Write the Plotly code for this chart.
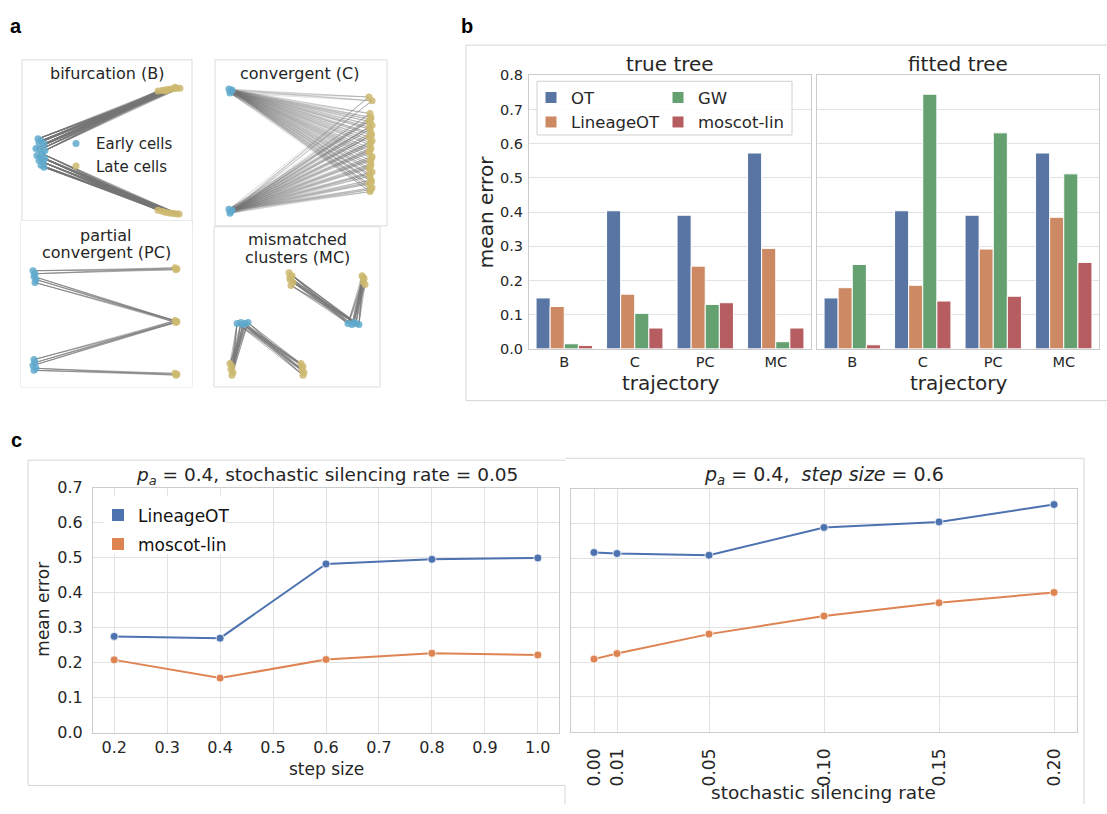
import plotly.graph_objects as go

W, H = 1107, 814


def fx(p):
    return p / W


def fy(p):
    return 1 - p / H


FONT = "DejaVu Sans"
TXT = "#262626"

# ---------------- Panel a : schematic embeddings (unit box coordinates) ----------------
# bifurcation (B)
B_early_up_x = [0.094, 0.112, 0.100, 0.129, 0.082, 0.106, 0.135]
B_early_up_y = [0.524, 0.512, 0.500, 0.494, 0.465, 0.459, 0.453]
B_early_lo_x = [0.118, 0.088, 0.112, 0.135, 0.100, 0.124, 0.112, 0.129]
B_early_lo_y = [0.435, 0.424, 0.412, 0.406, 0.394, 0.382, 0.365, 0.353]
B_late_up_x = [0.800, 0.824, 0.841, 0.859, 0.876, 0.894, 0.912, 0.929, 0.847, 0.900]
B_late_up_y = [0.812, 0.815, 0.818, 0.821, 0.824, 0.826, 0.829, 0.829, 0.812, 0.835]
B_late_lo_x = [0.800, 0.824, 0.841, 0.859, 0.876, 0.894, 0.912, 0.924]
B_late_lo_y = [0.094, 0.088, 0.082, 0.079, 0.076, 0.074, 0.071, 0.071]

# convergent (C)
C_early_up_x = [0.081, 0.093, 0.087, 0.099]
C_early_up_y = [0.824, 0.812, 0.800, 0.818]
C_early_lo_x = [0.081, 0.093, 0.087, 0.099]
C_early_lo_y = [0.100, 0.088, 0.076, 0.094]
C_late_x = [0.901, 0.907, 0.895, 0.913, 0.901, 0.907, 0.895, 0.913, 0.901, 0.907, 0.895,
            0.913, 0.901, 0.907, 0.895, 0.913, 0.901, 0.907, 0.895, 0.913, 0.901, 0.895, 0.913,
            0.904, 0.898, 0.910, 0.904, 0.898, 0.910, 0.904, 0.898, 0.910, 0.904]
C_late_y = [0.676, 0.653, 0.629, 0.606, 0.582, 0.559, 0.535, 0.512, 0.488, 0.465, 0.441,
            0.418, 0.394, 0.371, 0.347, 0.324, 0.300, 0.276, 0.253, 0.229, 0.206, 0.776, 0.753,
            0.641, 0.594, 0.547, 0.500, 0.453, 0.406, 0.359, 0.312, 0.265, 0.218]

# partial convergent (PC)
PC_early_up_x = [0.070, 0.082, 0.076, 0.088, 0.082]
PC_early_up_y = [0.700, 0.682, 0.665, 0.647, 0.629]
PC_early_lo_x = [0.076, 0.082, 0.070, 0.088, 0.076]
PC_early_lo_y = [0.165, 0.147, 0.129, 0.112, 0.100]
PC_late_top_x = [0.901, 0.912, 0.906]
PC_late_top_y = [0.718, 0.712, 0.706]
PC_late_mid_x = [0.901, 0.912, 0.906]
PC_late_mid_y = [0.400, 0.394, 0.388]
PC_late_bot_x = [0.901, 0.912, 0.906]
PC_late_bot_y = [0.082, 0.076, 0.071]

# mismatched clusters (MC)
MC_lateA_x = [0.452, 0.470, 0.458, 0.476, 0.464, 0.458]
MC_lateA_y = [0.713, 0.695, 0.671, 0.652, 0.634, 0.683]
MC_lateB_x = [0.892, 0.904, 0.898, 0.910, 0.898]
MC_lateB_y = [0.695, 0.677, 0.659, 0.640, 0.683]
MC_earlyC_x = [0.807, 0.831, 0.855, 0.873, 0.843]
MC_earlyC_y = [0.396, 0.390, 0.396, 0.390, 0.402]
MC_earlyD_x = [0.139, 0.163, 0.187, 0.205, 0.175]
MC_earlyD_y = [0.396, 0.402, 0.396, 0.402, 0.390]
MC_lateE_x = [0.096, 0.108, 0.102, 0.114, 0.108]
MC_lateE_y = [0.146, 0.128, 0.110, 0.091, 0.073]
MC_lateF_x = [0.524, 0.536, 0.530, 0.542, 0.536]
MC_lateF_y = [0.146, 0.128, 0.110, 0.091, 0.073]

# ---------------- Panel b : bar data ----------------
trajectories = ["B", "C", "PC", "MC"]
methods = ["OT", "LineageOT", "GW", "moscot-lin"]
true_OT = [0.149, 0.404, 0.391, 0.573]
true_LineageOT = [0.124, 0.160, 0.242, 0.294]
true_GW = [0.015, 0.104, 0.130, 0.021]
true_moscot = [0.010, 0.061, 0.135, 0.061]
fit_OT = [0.149, 0.404, 0.391, 0.573]
fit_LineageOT = [0.179, 0.186, 0.292, 0.385]
fit_GW = [0.247, 0.745, 0.632, 0.512]
fit_moscot = [0.012, 0.140, 0.154, 0.253]
bar_colors = ["#5975A4", "#CC8963", "#64A070", "#B55D60"]
b_yticks = [0.0, 0.1, 0.2, 0.3, 0.4, 0.5, 0.6, 0.7, 0.8]

# ---------------- Panel c : line data ----------------
step_size = [0.2, 0.4, 0.6, 0.8, 1.0]
lot_step = [0.275, 0.270, 0.482, 0.495, 0.499]
ml_step = [0.208, 0.156, 0.209, 0.227, 0.222]
silencing = [0.0, 0.01, 0.05, 0.10, 0.15, 0.20]
silencing_labels = ["0.00", "0.01", "0.05", "0.10", "0.15", "0.20"]
lot_sil = [0.516, 0.513, 0.508, 0.588, 0.604, 0.654]
ml_sil = [0.209, 0.225, 0.281, 0.333, 0.371, 0.401]
c_xticks = [0.2, 0.3, 0.4, 0.5, 0.6, 0.7, 0.8, 0.9, 1.0]
c_yticks = [0.0, 0.1, 0.2, 0.3, 0.4, 0.5, 0.6, 0.7]
line_colors = ["#4C72B0", "#DD8452"]

EARLY = "#5fa9cc"
LATE = "#cdb86e"
LINK = "rgba(115,115,115,0.5)"

fig = go.Figure()


def links(sx, sy, dx, dy):
    xs, ys = [], []
    for a, b in zip(sx, sy):
        for c, d in zip(dx, dy):
            xs += [a, c, None]
            ys += [b, d, None]
    return xs, ys


def add_links(pairs, ax, color=LINK):
    xs, ys = [], []
    for sx, sy, dx, dy in pairs:
        lx, ly = links(sx, sy, dx, dy)
        xs += lx
        ys += ly
    fig.add_trace(go.Scatter(x=xs, y=ys, mode="lines", line=dict(color=color, width=1),
                             xaxis="x" + ax, yaxis="y" + ax, showlegend=False, hoverinfo="skip"))


def add_pts(xs, ys, color, ax, name=None, show=False):
    fig.add_trace(go.Scatter(x=xs, y=ys, mode="markers",
                             marker=dict(color=color, size=7, opacity=0.85),
                             xaxis="x" + ax, yaxis="y" + ax, name=name, showlegend=show,
                             legend="legend4"))


# panel a - B
add_links([(B_early_up_x, B_early_up_y, B_late_up_x, B_late_up_y),
           (B_early_lo_x, B_early_lo_y, B_late_lo_x, B_late_lo_y)], "")
add_pts(B_early_up_x + B_early_lo_x, B_early_up_y + B_early_lo_y, EARLY, "", "Early cells", True)
add_pts(B_late_up_x + B_late_lo_x, B_late_up_y + B_late_lo_y, LATE, "", "Late cells", True)
# panel a - C
add_links([(C_early_up_x, C_early_up_y, C_late_x, C_late_y),
           (C_early_lo_x, C_early_lo_y, C_late_x, C_late_y)], "2", "rgba(120,120,120,0.2)")
add_pts(C_early_up_x + C_early_lo_x, C_early_up_y + C_early_lo_y, EARLY, "2")
add_pts(C_late_x, C_late_y, LATE, "2")
# panel a - PC
add_links([(PC_early_up_x[:2], PC_early_up_y[:2], PC_late_top_x, PC_late_top_y),
           (PC_early_up_x[2:], PC_early_up_y[2:], PC_late_mid_x, PC_late_mid_y),
           (PC_early_lo_x[:3], PC_early_lo_y[:3], PC_late_mid_x, PC_late_mid_y),
           (PC_early_lo_x[3:], PC_early_lo_y[3:], PC_late_bot_x, PC_late_bot_y)], "3")
add_pts(PC_early_up_x + PC_early_lo_x, PC_early_up_y + PC_early_lo_y, EARLY, "3")
add_pts(PC_late_top_x + PC_late_mid_x + PC_late_bot_x,
        PC_late_top_y + PC_late_mid_y + PC_late_bot_y, LATE, "3")
# panel a - MC
add_links([(MC_earlyC_x, MC_earlyC_y, MC_lateA_x, MC_lateA_y),
           (MC_earlyC_x, MC_earlyC_y, MC_lateB_x, MC_lateB_y),
           (MC_earlyD_x, MC_earlyD_y, MC_lateE_x, MC_lateE_y),
           (MC_earlyD_x, MC_earlyD_y, MC_lateF_x, MC_lateF_y)], "4")
add_pts(MC_earlyC_x + MC_earlyD_x, MC_earlyC_y + MC_earlyD_y, EARLY, "4")
add_pts(MC_lateA_x + MC_lateB_x + MC_lateE_x + MC_lateF_x,
        MC_lateA_y + MC_lateB_y + MC_lateE_y + MC_lateF_y, LATE, "4")

# panel b bars
true_vals = [true_OT, true_LineageOT, true_GW, true_moscot]
fit_vals = [fit_OT, fit_LineageOT, fit_GW, fit_moscot]
leg_of = {"OT": "legend", "LineageOT": "legend", "GW": "legend2", "moscot-lin": "legend2"}
for m, vals, col in zip(methods, true_vals, bar_colors):
    fig.add_trace(go.Bar(x=trajectories, y=vals, name=m, marker=dict(color=col, line=dict(color="white", width=1)),
                         xaxis="x5", yaxis="y5", legend=leg_of[m], offsetgroup=m))
for m, vals, col in zip(methods, fit_vals, bar_colors):
    fig.add_trace(go.Bar(x=trajectories, y=vals, name=m, marker=dict(color=col, line=dict(color="white", width=1)),
                         xaxis="x6", yaxis="y6", showlegend=False, offsetgroup=m))

# panel c lines
for xs, ys, col, ax in [(step_size, lot_step, line_colors[0], "7"), (step_size, ml_step, line_colors[1], "7"),
                        (silencing, lot_sil, line_colors[0], "8"), (silencing, ml_sil, line_colors[1], "8")]:
    fig.add_trace(go.Scatter(x=xs, y=ys, mode="lines+markers", line=dict(color=col, width=2),
                             marker=dict(size=8, color=col, line=dict(color="white", width=0.75)),
                             xaxis="x" + ax, yaxis="y" + ax, showlegend=False))
for nm, col in [("LineageOT", line_colors[0]), ("moscot-lin", line_colors[1])]:
    fig.add_trace(go.Scatter(x=[None], y=[None], mode="markers", name=nm, legendgroup=nm,
                             marker=dict(symbol="square", size=12, color=col),
                             xaxis="x7", yaxis="y7", legend="legend3"))

SPINE = "#cccccc"
GRID = "#e2e2e2"
hidden = dict(visible=False, range=[0, 1], fixedrange=True)
lay = dict(
    width=W, height=H, margin=dict(l=0, r=0, t=0, b=0),
    paper_bgcolor="white", plot_bgcolor="white",
    font=dict(family=FONT, color=TXT),
    barmode="group", bargap=0.2, bargroupgap=0,
    xaxis=dict(domain=[fx(22), fx(192)], anchor="y", **hidden),
    yaxis=dict(domain=[fy(222), fy(52)], anchor="x", **hidden),
    xaxis2=dict(domain=[fx(215), fx(387)], anchor="y2", **hidden),
    yaxis2=dict(domain=[fy(222), fy(52)], anchor="x2", **hidden),
    xaxis3=dict(domain=[fx(21), fx(192)], anchor="y3", **hidden),
    yaxis3=dict(domain=[fy(387), fy(217)], anchor="x3", **hidden),
    xaxis4=dict(domain=[fx(214), fx(380)], anchor="y4", **hidden),
    yaxis4=dict(domain=[fy(387), fy(223)], anchor="x4", **hidden),
)
bx = dict(type="category", categoryorder="array", categoryarray=trajectories, showgrid=False,
          showline=True, mirror=True, linecolor=SPINE, linewidth=1, ticks="", tickfont=dict(size=14.5, color=TXT))
by = dict(range=[0, 0.8], tickvals=b_yticks, tickformat=".1f", showgrid=True, gridcolor=GRID,
          showline=True, mirror=True, linecolor=SPINE, zeroline=False, ticks="outside", ticklen=2,
          tickcolor="rgba(0,0,0,0)", tickfont=dict(size=14.5, color=TXT))
lay["xaxis5"] = dict(domain=[fx(529), fx(811)], anchor="y5", **bx)
lay["yaxis5"] = dict(domain=[fy(348), fy(68)], anchor="x5", **by)
lay["xaxis6"] = dict(domain=[fx(817), fx(1099)], anchor="y6", **bx)
lay["yaxis6"] = dict(domain=[fy(348), fy(68)], anchor="x6", showticklabels=False, **by)

cx = dict(showgrid=True, gridcolor=GRID, showline=True, mirror=True, linecolor=SPINE, zeroline=False,
          tickcolor="rgba(0,0,0,0)")
cy = dict(range=[0, 0.7], tickvals=c_yticks, tickformat=".1f", showgrid=True, gridcolor=GRID,
          showline=True, mirror=True, linecolor=SPINE, zeroline=False, ticks="outside", ticklen=6,
          tickcolor="rgba(0,0,0,0)", tickfont=dict(size=16, color=TXT))
lay["xaxis7"] = dict(domain=[fx(93), fx(559)], anchor="y7", range=[0.16, 1.04], tickvals=c_xticks,
                     tickformat=".1f", ticks="", tickfont=dict(size=16, color=TXT), **cx)
lay["yaxis7"] = dict(domain=[fy(741), fy(490)], anchor="x7", **cy)
lay["xaxis8"] = dict(domain=[fx(571), fx(1077)], anchor="y8", range=[-0.01, 0.21], tickvals=silencing,
                     ticktext=silencing_labels, tickangle=-90, ticks="outside", ticklen=9,
                     tickfont=dict(size=17, color=TXT), **cx)
lay["yaxis8"] = dict(domain=[fy(740), fy(491)], anchor="x8", showticklabels=False, **cy)

leg_common = dict(bgcolor="rgba(0,0,0,0)", borderwidth=0, xanchor="left", yanchor="top",
                  itemclick=False, itemdoubleclick=False)
lay["legend"] = dict(x=fx(531), y=fy(73), font=dict(size=16.5, color=TXT), tracegroupgap=0, **leg_common)
lay["legend2"] = dict(x=fx(658), y=fy(73), font=dict(size=16.5, color=TXT), tracegroupgap=0, **leg_common)
lay["legend3"] = dict(x=fx(98), y=fy(500), font=dict(size=17, color="#111111"), tracegroupgap=4, **leg_common)
lay["legend4"] = dict(x=fx(56), y=fy(121), font=dict(size=15, color=TXT), tracegroupgap=0, **leg_common)
fig.update_layout(**lay)

FRAME = "#d6d6d6"
shapes = []


def seg(x0, y0, x1, y1, color=FRAME):
    shapes.append(dict(type="line", xref="paper", yref="paper", x0=fx(x0), y0=fy(y0), x1=fx(x1), y1=fy(y1),
                       line=dict(color=color, width=1), layer="above"))


# panel a frames
for (x0, y0, x1, y1) in [(22, 52, 192, 222), (215, 52, 387, 222), (21, 217, 192, 387), (214, 223, 380, 387)]:
    shapes.append(dict(type="rect", xref="paper", yref="paper", x0=fx(x0), y0=fy(y1), x1=fx(x1), y1=fy(y0),
                       line=dict(color="#dcdcdc", width=1), layer="below"))
# panel b frame
seg(466, 37, 1107, 37)
seg(466, 37, 466, 401)
seg(466, 401, 1107, 401)
# panel c frames
seg(28, 462, 565, 462)
seg(28, 462, 28, 795)
seg(28, 795, 565, 795)
seg(565, 460, 1084, 460)
seg(1084, 460, 1084, 814)
seg(565, 795, 565, 814)
# legend backgrounds
shapes.append(dict(type="rect", xref="paper", yref="paper", x0=fx(537), y0=fy(129), x1=fx(792), y1=fy(74),
                   fillcolor="rgba(255,255,255,0.85)", line=dict(color="#d0d0d0", width=1), layer="above"))
shapes.append(dict(type="rect", xref="paper", yref="paper", x0=fx(104), y0=fy(558), x1=fx(225), y1=fy(499),
                   fillcolor="white", line=dict(color="rgba(0,0,0,0)", width=0), layer="above"))
fig.update_layout(shapes=shapes)

ann = []


def text(x, y, s, size, angle=0, color=TXT, bold=False, family=FONT):
    ann.append(dict(x=fx(x), y=fy(y), xref="paper", yref="paper", text=("<b>%s</b>" % s) if bold else s,
                    showarrow=False, textangle=angle, xanchor="center", yanchor="middle",
                    font=dict(size=size, color=color, family=family)))


text(16, 17, "a", 20, color="black", bold=True, family="Liberation Sans")
text(467, 17, "b", 20, color="black", bold=True, family="Liberation Sans")
text(16, 441, "c", 20, color="black", bold=True, family="Liberation Sans")
text(107, 66, "bifurcation (B)", 16)
text(300, 66, "convergent (C)", 16)
text(106, 232, "partial", 16)
text(106, 249, "convergent (PC)", 16)
text(297, 236, "mismatched", 16)
text(297, 254, "clusters (MC)", 16)
text(670, 56, "true tree", 20)
text(958, 56, "fitted tree", 20)
text(486, 208, "mean error", 20, angle=-90)
text(670, 383, "trajectory", 20)
text(958, 383, "trajectory", 20)
text(327, 478, "<i>p</i><sub><i>a</i></sub> = 0.4, stochastic silencing rate = 0.05", 18.5)
text(824, 478, "<i>p</i><sub><i>a</i></sub> = 0.4,  <i>step size</i> = 0.6", 19)
text(43, 615, "mean error", 17, angle=-90)
text(326, 778, "step size", 17)
text(823, 802, "stochastic silencing rate", 18.5)
fig.update_layout(annotations=ann)

fig.write_html("out.html", config={"displayModeBar": False},
               post_script="document.body.style.margin='0px';document.body.style.padding='0px';")
